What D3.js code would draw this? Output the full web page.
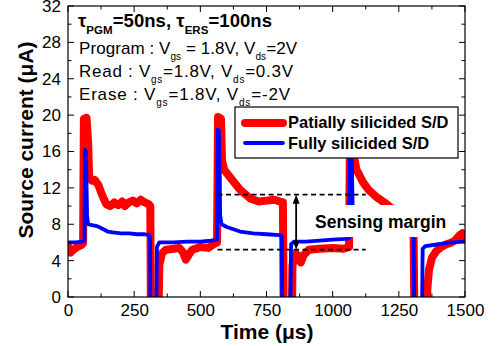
<!DOCTYPE html>
<html><head><meta charset="utf-8">
<script src="https://cdn.jsdelivr.net/npm/d3@7"></script>
<style>
body{margin:0;background:#fff;}
svg{display:block;font-family:"Liberation Sans",Arial,sans-serif;}
svg text{font-family:"Liberation Sans",Arial,sans-serif;}
</style></head>
<body><svg id="c" width="501" height="346"></svg>
<script>
// ---- data (time in µs, source current in µA) ----
const redTime = [0,10,20,35,50,57,60,70,76,80,90,100,115,125,135,145,160,175,190,205,215,230,245,260,275,290,305,311,
  314,340,345,355,370,400,420,435,445,455,470,500,530,550,563,
  567,578,582,590,620,650,690,720,750,780,800,812,
  816,845,848,860,870,880,890,910,950,1000,1040,1062,
  1066,1075,1080,1090,1115,1135,1170,1200,1230,1270,1305,
  1310,1352,1358,1364,1375,1390,1410,1430,1450,1465,1480,1490,1500];
const redCurrent = [5.6,4.9,5.2,5.5,5.7,5.9,19.6,19.7,17.0,13.2,12.8,12.9,12.3,11.5,10.8,10.2,10.0,10.4,10.1,10.5,10.0,10.4,10.6,10.3,10.7,10.4,10.2,10.0,
  -6,-6,3.5,4.8,5.2,5.3,5.4,4.9,4.1,4.6,5.2,5.5,5.4,5.8,6.0,
  19.8,19.6,15.0,14.0,12.9,11.8,10.8,10.5,10.6,10.7,10.5,10.4,
  -6,-6,3.5,4.8,4.5,3.8,4.6,5.2,5.3,5.4,5.3,5.5,
  20.0,19.8,15.5,14.0,12.6,11.8,10.9,10.3,9.6,9.3,9.2,
  -6,-6,1.0,3.0,4.3,5.0,5.5,5.8,6.0,6.3,6.8,7.0,6.4];
const blueTime = [0,30,55,62,64,68,72,76,90,110,130,150,170,200,230,260,290,305,310,
  312,332,336,345,400,450,500,540,563,
  566,570,575,580,600,650,700,750,800,808,
  810,838,843,855,900,950,1000,1050,1062,
  1066,1070,1076,1080,1150,1200,1250,1300,1306,
  1309,1336,1340,1350,1400,1450,1500];
const blueCurrent = [6.0,6.0,6.1,6.2,16.2,16.0,9.0,8.0,7.9,7.8,7.5,7.2,7.1,7.0,7.0,6.9,6.9,6.8,6.6,
  -6,-6,5.5,6.0,6.0,6.1,6.1,6.2,6.3,
  18.4,18.3,9.0,8.0,7.7,7.2,7.0,6.9,6.8,6.7,
  -6,-6,5.8,6.1,6.1,6.2,6.3,6.4,6.5,
  20.0,19.0,9.0,8.1,7.5,7.3,7.1,7.0,6.9,
  -6,-6,5.3,5.6,5.8,6.0,6.1];
const xTicks = [0,250,500,750,1000,1250,1500];
const yTicks = [0,4,8,12,16,20,24,28,32];
const seriesNames = ["Patially silicided S/D","Fully silicided S/D"];
const marginLevels = [11.25,5.2];   // dashed reference levels
const marginSpan = [565,1125];      // time span of dashed lines
const arrowTime = 862;

const FONT = "'Liberation Sans',Arial,sans-serif";
// ---- layout ----
const svg = d3.select("#c");
const m = {l:68,t:6,r:36,b:49};
const W = 501, H = 346;
const x = d3.scaleLinear().domain([0,1500]).range([m.l, W-m.r]);
const y = d3.scaleLinear().domain([0,32]).range([H-m.b, m.t]);

svg.append("defs").append("clipPath").attr("id","clip")
  .append("rect").attr("x",m.l).attr("y",m.t).attr("width",W-m.l-m.r).attr("height",H-m.t-m.b);

const line = d3.line().x(d=>x(d[0])).y(d=>y(d[1]));
const red = redTime.map((t,i)=>[t,redCurrent[i]]);
const blue = blueTime.map((t,i)=>[t,blueCurrent[i]]);
const g = svg.append("g").attr("clip-path","url(#clip)");
g.append("path").datum(red).attr("d",line).attr("fill","none").attr("stroke","#ff0000")
  .attr("stroke-width",8).attr("stroke-linejoin","round").attr("stroke-linecap","round");
g.append("path").datum(blue).attr("d",line).attr("fill","none").attr("stroke","#0000ff")
  .attr("stroke-width",3.8).attr("stroke-linejoin","round").attr("stroke-linecap","round");

// dashed levels
marginLevels.forEach(v=>{
  svg.append("line").attr("x1",x(marginSpan[0])).attr("x2",x(marginSpan[1]))
    .attr("y1",y(v)).attr("y2",y(v)).attr("stroke","#000").attr("stroke-width",1.8)
    .attr("stroke-dasharray","5,3.5");
});
// double arrow
const ax = x(arrowTime), ay1 = y(marginLevels[0]), ay2 = y(marginLevels[1]);
svg.append("line").attr("x1",ax).attr("x2",ax).attr("y1",ay1+7).attr("y2",ay2-7)
  .attr("stroke","#000").attr("stroke-width",1.8);
svg.append("path").attr("d",`M${ax},${ay1} L${ax-3.5},${ay1+9} L${ax+3.5},${ay1+9}Z`).attr("fill","#000");
svg.append("path").attr("d",`M${ax},${ay2} L${ax-3.5},${ay2-9} L${ax+3.5},${ay2-9}Z`).attr("fill","#000");

// sensing margin label with white box
svg.append("rect").attr("x",305).attr("y",205).attr("width",146).attr("height",32).attr("fill","#fff");
svg.append("text").attr("x",315).attr("y",228).style("font-size","17.5px").attr("font-weight","bold")
  .text("Sensing margin");

// ---- axes frame & ticks ----
svg.append("rect").attr("x",m.l).attr("y",m.t).attr("width",W-m.l-m.r).attr("height",H-m.t-m.b)
  .attr("fill","none").attr("stroke","#000").attr("stroke-width",1.2);
const xMinor = d3.range(0,1501,125), yMinor = d3.range(0,33,2);
const tk = svg.append("g").attr("stroke","#000").attr("stroke-width",1);
xMinor.forEach(v=>{
  const L = v%250===0?6:3.5;
  tk.append("line").attr("x1",x(v)).attr("x2",x(v)).attr("y1",y(0)).attr("y2",y(0)-L);
  tk.append("line").attr("x1",x(v)).attr("x2",x(v)).attr("y1",y(32)).attr("y2",y(32)+L);
});
yMinor.forEach(v=>{
  const L = v%4===0?6:3.5;
  tk.append("line").attr("x1",x(0)).attr("x2",x(0)+L).attr("y1",y(v)).attr("y2",y(v));
  tk.append("line").attr("x1",x(1500)).attr("x2",x(1500)-L).attr("y1",y(v)).attr("y2",y(v));
});
const xa = svg.append("g").attr("transform",`translate(0,${y(0)})`)
  .call(d3.axisBottom(x).tickValues(xTicks).tickSize(0).tickPadding(7).tickFormat(d3.format("d")));
xa.select(".domain").remove();
xa.selectAll("text").style("font-size","17px").style("font-family",FONT).attr("fill","#000");
const ya = svg.append("g").attr("transform",`translate(${x(0)},0)`)
  .call(d3.axisLeft(y).tickValues(yTicks).tickSize(0).tickPadding(7).tickFormat(d3.format("d")));
ya.select(".domain").remove();
ya.selectAll("text").style("font-size","17px").style("font-family",FONT).attr("fill","#000");

// axis titles
svg.append("text").attr("x",267).attr("y",339).attr("text-anchor","middle")
  .style("font-size","21px").attr("font-weight","bold").text("Time (μs)");
svg.append("text").attr("transform","translate(33,140) rotate(-90)").attr("text-anchor","middle")
  .style("font-size","21px").attr("font-weight","bold").text("Source current (μA)");

// ---- annotation block ----
const t0 = svg.append("text").attr("x",78).attr("y",27).style("font-size","18.5px").attr("font-weight","bold")
  .attr("textLength",194).attr("lengthAdjust","spacing");
t0.append("tspan").text("τ");
t0.append("tspan").attr("dy",7).style("font-size","11.5px").text("PGM");
t0.append("tspan").attr("dy",-7).text("=50ns, τ");
t0.append("tspan").attr("dy",7).style("font-size","11.5px").text("ERS");
t0.append("tspan").attr("dy",-7).text("=100ns");

function condLine(yb, len, parts){
  const t = svg.append("text").attr("x",79).attr("y",yb).style("font-size","17px")
    .attr("textLength",len).attr("lengthAdjust","spacing");
  let down = false;
  parts.forEach(p=>{
    if(p.sub){ t.append("tspan").attr("dy",6).style("font-size","10px").text(p.s); down = true; }
    else { t.append("tspan").attr("dy",down?-6:0).text(p.s); down = false; }
  });
}
condLine(54,218,[{s:"Program : V"},{s:"gs",sub:1},{s:" = 1.8V, V"},{s:"ds",sub:1},{s:"=2V"}]);
condLine(77,214,[{s:"Read : V"},{s:"gs",sub:1},{s:"=1.8V, V"},{s:"ds",sub:1},{s:"=0.3V"}]);
condLine(100,211,[{s:"Erase : V"},{s:"gs",sub:1},{s:"=1.8V, V"},{s:"ds",sub:1},{s:"=-2V"}]);

// ---- legend ----
const lg = svg.append("g");
lg.append("rect").attr("x",235).attr("y",107).attr("width",223).attr("height",51)
  .attr("fill","#fff").attr("stroke","#000").attr("stroke-width",1.2);
lg.append("line").attr("x1",245).attr("x2",283).attr("y1",123).attr("y2",123)
  .attr("stroke","#ff0000").attr("stroke-width",8).attr("stroke-linecap","round");
lg.append("line").attr("x1",245).attr("x2",283).attr("y1",143).attr("y2",143)
  .attr("stroke","#0000ff").attr("stroke-width",3.8).attr("stroke-linecap","round");
lg.append("text").attr("x",288).attr("y",128).style("font-size","16.5px").attr("font-weight","bold").text(seriesNames[0]);
lg.append("text").attr("x",288).attr("y",149).style("font-size","16.5px").attr("font-weight","bold").text(seriesNames[1]);
</script></body></html>
